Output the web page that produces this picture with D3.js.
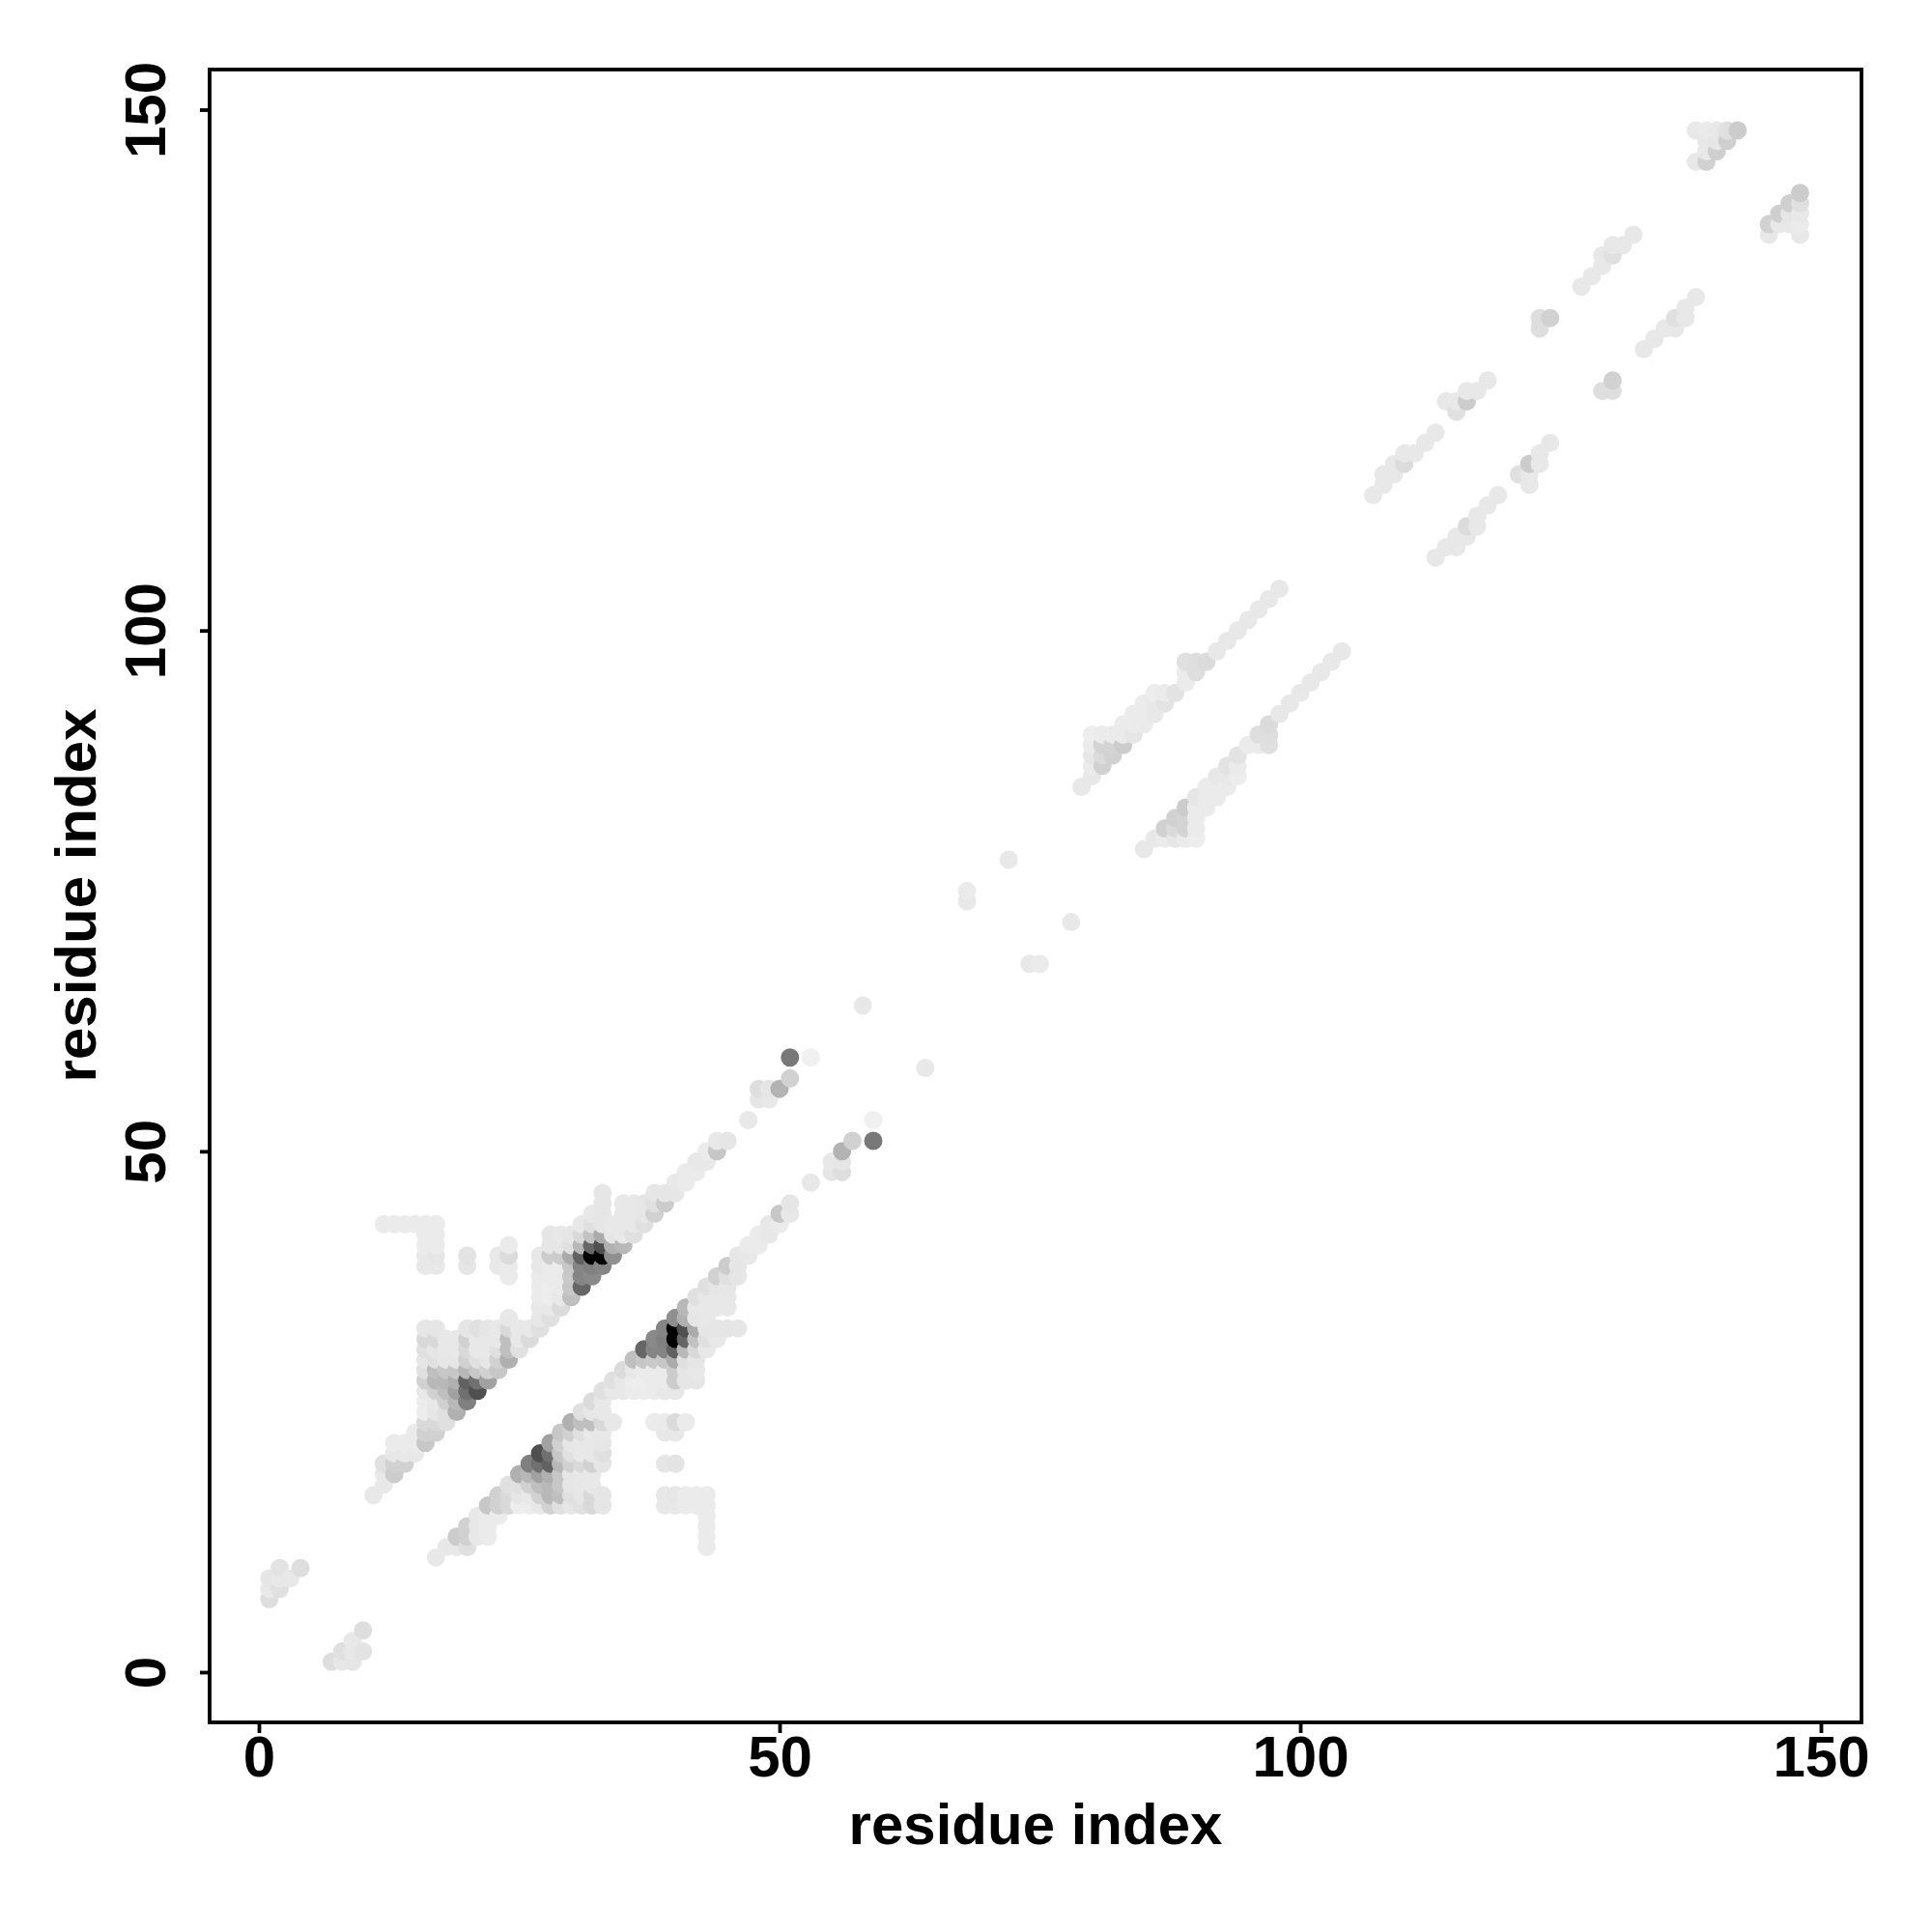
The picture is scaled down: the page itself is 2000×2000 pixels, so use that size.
<!DOCTYPE html>
<html><head><meta charset="utf-8">
<script src="https://cdn.jsdelivr.net/npm/d3@7"></script>
<style>html,body{margin:0;padding:0;background:#fff}svg{display:block}text{font-family:"Liberation Sans",Arial,sans-serif;font-weight:bold;fill:#000}</style>
</head><body><svg id="c" width="2000" height="2000"></svg>
<script>
const tickValues = [0, 50, 100, 150];
const axisTitle = "residue index";
// contact frequency (percent): [second residue, first residue of run, values along the run]; map is symmetric
const contactRuns = [
[1,7,[13,9,10]],[2,8,[12,9,11]],[3,9,[9]],[4,10,[13]],
[11,17,[9]],[12,18,[9,9,12]],[12,43,[8]],[13,19,[20,18,9,8]],[13,43,[8]],[14,20,[18,9,8]],[14,43,[8]],
[15,21,[9,8,8]],[15,43,[8]],[16,22,[22,18,15,7,7,9,18,12,10,12,15,10]],[16,39,[9,9,8,8,8]],
[17,23,[18,15,10,9,18,28,25,12,10,15,10]],[17,39,[9,10,8,8,8]],[18,24,[12,12,18,25,28,22,10,9,9]],
[19,25,[31,28,37,31,22,10,9,9]],[20,26,[50,56,62,28,18,15,18,10]],[20,39,[10,11]],
[21,27,[69,56,22,12,9,9,12]],[22,28,[37,18,10,9,9,10]],[23,29,[22,18,12,9,9]],[23,39,[9,9]],
[24,30,[31,25,25,15,9]],[24,38,[8,8,14,8]],[25,31,[12,9,9]],[26,32,[14,9]],
[27,33,[12,9,9,8,8,8,9,9]],[28,34,[12,9,7,7,8,8,20,10,10]],[29,35,[14,9,8,8,8,20,10,9]],
[30,36,[25,22,21,22,33,12,10]],[31,37,[60,48,48,62,28,15,9]],[32,38,[46,50,100,60,24,12,9]],
[33,39,[48,100,69,33,10,10,10,10]],[34,40,[44,31,10,9]],[35,41,[28,9,9,9,9]],[36,42,[12,9,9,9]],
[37,43,[12,10,10]],[38,44,[18,12,10]],[39,45,[20,10]],[40,46,[10,9]],[41,47,[8,8]],[42,48,[8,9]],
[43,49,[9,8]],[44,50,[22,9]],[45,51,[10]],[47,53,[9]],[48,55,[10,13]],[49,55,[9,10]],[50,56,[30]],
[51,57,[18]],[51,59,[53]],[53,59,[6]],[58,64,[9]],[68,74,[9,8]],[72,78,[9]],
[79,85,[9]],[80,86,[9,8,10,8,7]],[81,87,[18,14,17,8]],[82,88,[18,17,8]],[83,89,[20,8,8]],[84,90,[10,8,8]],
[85,91,[8,8,8]],[86,92,[9,9,7]],[87,93,[11,8]],[88,94,[11]],[89,95,[8,8,12]],[90,96,[13,13]],[91,97,[14]],
[92,98,[9]],[93,99,[9]],[94,100,[9]],[95,101,[9]],[96,102,[9]],[97,103,[9]],[98,104,[9]],
[107,113,[9]],[108,114,[9,9]],[109,115,[9,9]],[110,116,[14,9]],[111,117,[9]],[112,118,[9]],[113,119,[9]],
[114,122,[9]],[115,121,[12,9]],[116,122,[20,9]],[117,123,[9]],[118,124,[9]],[123,129,[13,13]],[124,130,[18]],
[127,133,[9]],[128,134,[9]],[129,135,[9,9]],[130,136,[12,9]],[131,137,[9]],[132,138,[9]],
[138,145,[9]],[138,148,[9]],[139,145,[18,9,9,8]],[140,146,[19,10,9]],[141,147,[19,12]],[142,148,[20]]
];
const cells = [];
contactRuns.forEach(([j, i0, vals]) => vals.forEach((v, k) => {
  cells.push({x: i0 + k, y: j, v});
  cells.push({x: j, y: i0 + k, v});
}));
cells.sort((a, b) => d3.ascending(a.x, b.x) || d3.ascending(a.y, b.y));

const svg = d3.select("#c");
const x = d3.scaleLinear().domain([0, 150]).range([268, 1885]);
const y = d3.scaleLinear().domain([0, 150]).range([1731, 113.5]);
const gray = d3.scaleLinear().domain([0, 100]).range(["#ffffff", "#000000"]);
const L = 217, R = 1927, T = 72, B = 1783;

svg.append("g").selectAll("circle").data(cells).join("circle")
  .attr("cx", d => x(d.x)).attr("cy", d => y(d.y)).attr("r", 9.5)
  .attr("fill", d => gray(d.v));

svg.append("rect").attr("x", L).attr("y", T).attr("width", R - L).attr("height", B - T)
  .attr("fill", "none").attr("stroke", "#000").attr("stroke-width", 3.8);

const ax = svg.append("g").attr("transform", `translate(0,${B})`)
  .call(d3.axisBottom(x).tickValues(tickValues).tickSize(11).tickPadding(10).tickFormat(d3.format("d")));
const ay = svg.append("g").attr("transform", `translate(${L},0)`)
  .call(d3.axisLeft(y).tickValues(tickValues).tickSize(10).tickFormat(d3.format("d")));
[ax, ay].forEach(g => {
  g.select(".domain").remove();
  g.selectAll("line").attr("stroke", "#000").attr("stroke-width", 3.8);
  g.selectAll("text").style("font-size", "60px");
});
ax.selectAll("text").attr("y", null).attr("dy", null).attr("transform", "translate(0,56)").attr("text-anchor", "middle");
ay.selectAll("text").attr("x", null).attr("dy", null).attr("y", null)
  .attr("text-anchor", "middle").attr("transform", "translate(-46,0) rotate(-90)");

svg.append("text").attr("x", 1072).attr("y", 1909).attr("text-anchor", "middle")
  .style("font-size", "60px").text(axisTitle);
svg.append("text").attr("transform", "translate(99,927) rotate(-90)").attr("text-anchor", "middle")
  .style("font-size", "60px").text(axisTitle);
</script></body></html>
